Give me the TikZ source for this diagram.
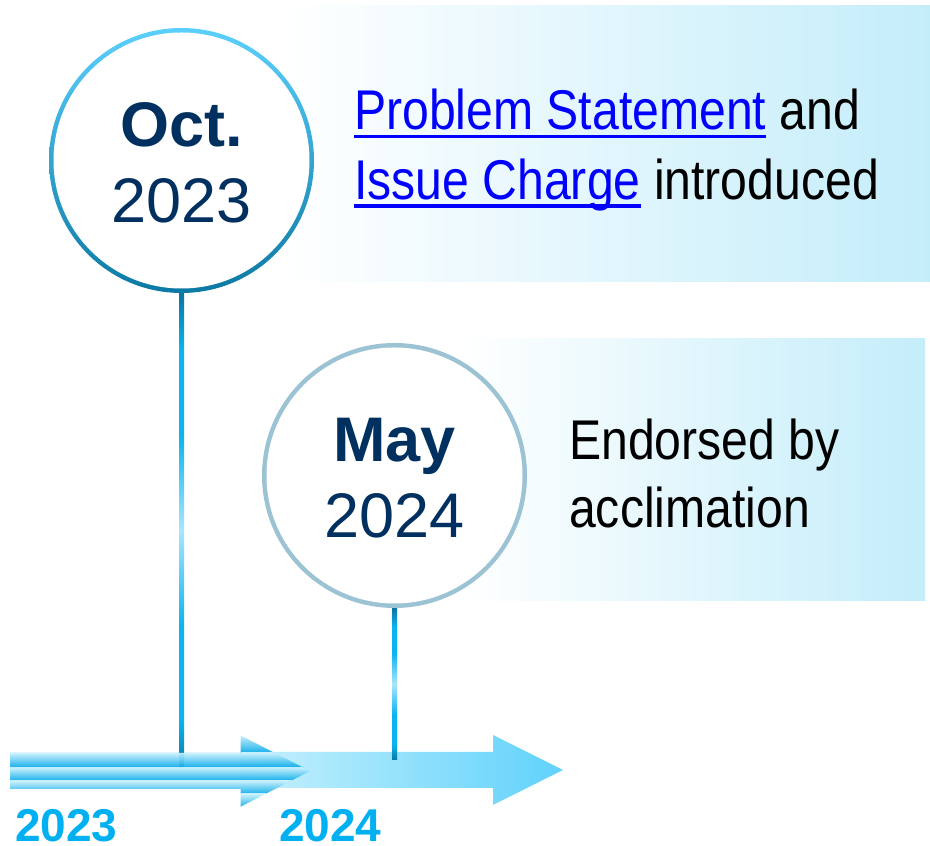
\documentclass[tikz,border=0pt]{standalone}
\usepackage{fontspec}
\setmainfont{Liberation Sans}
\newfontfamily\narrowfont[FakeStretch=0.86]{Liberation Sans}
\definecolor{navy}{HTML}{00305F}
\definecolor{linkblue}{HTML}{0000FF}
\definecolor{boxblue}{HTML}{C4EDFA}
\definecolor{ringtop}{HTML}{5CD0FD}
\definecolor{ringmid}{HTML}{10B3EE}
\definecolor{ringbot}{HTML}{0B79A4}
\definecolor{maring}{HTML}{9CC3D4}
\definecolor{stemdark}{HTML}{0A76A3}
\definecolor{stemcyan}{HTML}{0AB4F0}
\definecolor{stemlight}{HTML}{A8E6FB}
\definecolor{arrowlight}{HTML}{C8F1FD}
\definecolor{arrowtip}{HTML}{60D2FB}
\definecolor{stripelight}{HTML}{C6F0FD}
\definecolor{stripedark}{HTML}{04A9E9}
\definecolor{yearblue}{HTML}{00B0F0}
\pgfdeclareverticalshading{stemshade}{100bp}{color(0bp)=(stemdark); color(25bp)=(stemdark); color(30bp)=(stemcyan); color(40bp)=(stemcyan); color(50bp)=(stemlight); color(60bp)=(stemcyan); color(69bp)=(stemcyan); color(75bp)=(stemdark); color(100bp)=(stemdark)}
\newcommand{\ulink}[1]{\setbox0=\hbox{#1}\textcolor{linkblue}{\rlap{\rule[-8.5pt]{\wd0}{3.3pt}}\box0}}
\tikzset{
  datebig/.style={anchor=base, inner sep=0, text=navy, font=\bfseries\fontsize{63}{70}\selectfont},
  dateyear/.style={anchor=base, inner sep=0, text=navy, font=\fontsize{63}{70}\selectfont},
  boxtext/.style={anchor=base west, inner sep=0, font=\narrowfont\fontsize{56}{69}\selectfont},
  yearlabel/.style={anchor=base west, inner sep=0, text=yearblue, font=\bfseries\fontsize{46}{50}\selectfont},
  marker/.style={circle, minimum size=265pt, inner sep=0, draw=none},
}
\begin{document}
\begin{tikzpicture}[x=1pt,y=1pt]
\useasboundingbox (0,0) rectangle (930,846);
% background boxes
\shade[left color=white, right color=boxblue] (280,564) rectangle (930,840);
\shade[left color=white, right color=boxblue] (460,245) rectangle (925,507);
% marker nodes (for names)
\node[marker] (oct) at (181.5,685.5) {};
\node[marker] (may) at (394.5,370.5) {};
\coordinate (octfoot) at (181.5,78);
\coordinate (mayfoot) at (394.5,86);
% Oct stem
\shade[shading=stemshade] ([xshift=-2.5pt]oct.south) rectangle ([xshift=2.5pt]octfoot);
% light arrow
\shade[left color=arrowlight, right color=arrowtip]
  (240,58) -- (493,58) -- (493,41) -- (563,76) -- (493,111) -- (493,94) -- (240,94) -- cycle;
% striped arrow
\begin{scope}[opacity=0.93]
\clip (10.7,57) -- (240.7,57) -- (240.7,39.3) -- (310,75) -- (240.7,110.5) -- (240.7,93) -- (10.7,93) -- cycle;
\foreach \a/\b in {93/111, 78.5/93, 65/78.5, 52/65, 38/52}
  \shade[top color=stripelight, bottom color=stripedark] (10,\a) rectangle (312,\b);
\end{scope}
% May stem
\shade[shading=stemshade] ([xshift=-2.5pt]may.south) rectangle ([xshift=2.5pt]mayfoot);
% circles
\shade[top color=ringtop, middle color=ringmid, bottom color=ringbot] (oct.center) circle (132.5);
\fill[white] (oct.center) circle (128);
\fill[maring] (may.center) circle (132.5);
\fill[white] (may.center) circle (128);
% circle texts
\node[datebig] (octm) at (181.5,699) {Oct.};
\node[dateyear] (octy) at (181.5,623) {2023};
\node[datebig] (maym) at (394.5,384) {May};
\node[dateyear] (mayy) at (394.5,308) {2024};
% box texts
\node[boxtext] (t1) at (354,716) {\ulink{Problem Statement} and};
\node[boxtext] (t2) at (354,646.7) {\ulink{Issue Charge} introduced};
\node[boxtext] (e1) at (569,386.5) {Endorsed by};
\node[boxtext] (e2) at (569,318) {acclimation};
% year labels
\node[yearlabel] (y1) at (15,4.5) {2023};
\node[yearlabel] (y2) at (279,4.5) {2024};
\end{tikzpicture}
\end{document}
